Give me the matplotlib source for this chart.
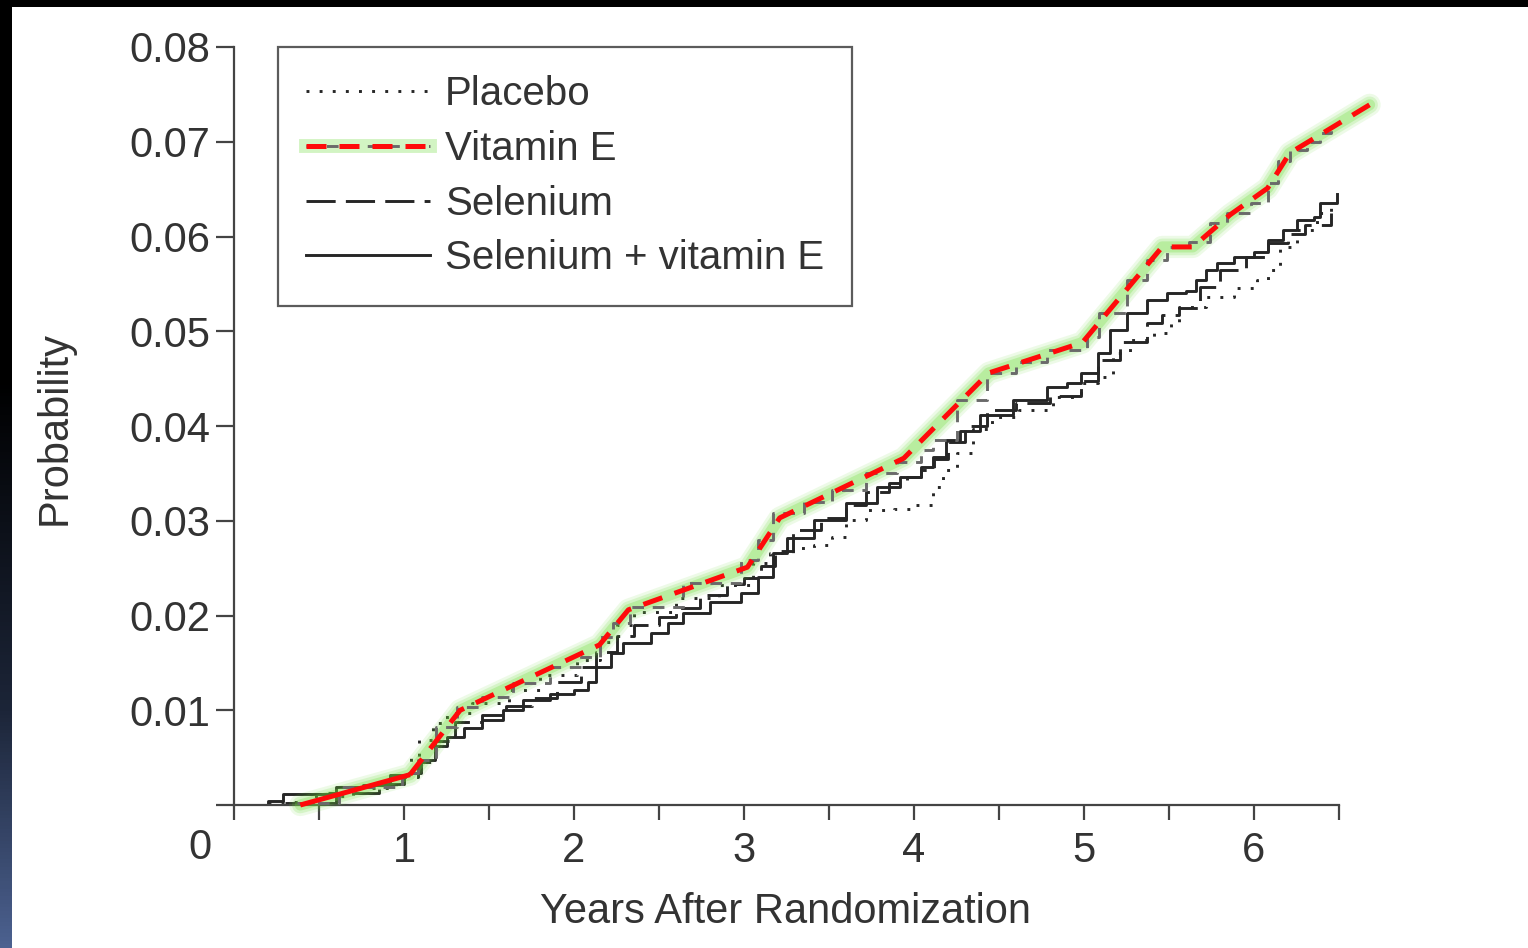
import matplotlib
matplotlib.use("Agg")
import matplotlib.pyplot as plt
from matplotlib.lines import Line2D
from matplotlib.legend_handler import HandlerTuple
from matplotlib.colors import LinearSegmentedColormap
import numpy as np

plt.rcParams['font.family'] = ['Liberation Sans', 'DejaVu Sans']

# Kaplan-Meier style curves (years, probability)
placebo_t = [0.20, 0.45, 0.70, 0.95, 1.04, 1.09, 1.17, 1.25, 1.40, 1.62, 1.80, 2.02, 2.15, 2.25,
             2.35, 2.60, 2.85, 3.05, 3.15, 3.29, 3.41, 3.52, 3.60, 3.72, 3.88, 3.99, 4.11, 4.17,
             4.25, 4.35, 4.46, 4.62, 4.82, 4.98, 5.08, 5.17, 5.27, 5.41, 5.51, 5.56, 5.72, 5.88,
             6.02, 6.08, 6.15, 6.25, 6.37, 6.45]
placebo_p = [0.0003, 0.0010, 0.0018, 0.0028, 0.0051, 0.0069, 0.0087, 0.0097, 0.0108, 0.0121,
             0.0137, 0.0153, 0.0172, 0.0190, 0.0204, 0.0218, 0.0232, 0.0255, 0.0266, 0.0271,
             0.0274, 0.0283, 0.0301, 0.0311, 0.0312, 0.0317, 0.0336, 0.0354, 0.0371, 0.0397,
             0.0410, 0.0417, 0.0431, 0.0445, 0.0452, 0.0477, 0.0491, 0.0498, 0.0509, 0.0526,
             0.0536, 0.0546, 0.0554, 0.0565, 0.0589, 0.0607, 0.0625, 0.0633]

selenium_t = [0.30, 0.60, 0.85, 1.00, 1.08, 1.18, 1.30, 1.46, 1.60, 1.75, 1.90, 2.04, 2.13, 2.25,
              2.35, 2.50, 2.60, 2.74, 2.90, 3.00, 3.10, 3.18, 3.29, 3.45, 3.60, 3.72, 3.85, 3.96,
              4.04, 4.12, 4.20, 4.30, 4.43, 4.60, 4.80, 4.98, 5.08, 5.21, 5.37, 5.46, 5.56, 5.68,
              5.80, 5.95, 6.08, 6.20, 6.30, 6.45]
selenium_p = [0.0002, 0.0013, 0.0022, 0.0030, 0.0045, 0.0068, 0.0088, 0.0095, 0.0105, 0.0113,
              0.0130, 0.0146, 0.0162, 0.0178, 0.0190, 0.0198, 0.0208, 0.0222, 0.0233, 0.0240,
              0.0252, 0.0268, 0.0290, 0.0303, 0.0317, 0.0330, 0.0340, 0.0346, 0.0354, 0.0365,
              0.0383, 0.0400, 0.0417, 0.0424, 0.0432, 0.0447, 0.0470, 0.0489, 0.0509, 0.0517,
              0.0525, 0.0547, 0.0565, 0.0578, 0.0593, 0.0603, 0.0612, 0.0625]

sel_vite_t = [0.09, 0.20, 0.29, 0.56, 0.60, 0.76, 0.92, 1.03, 1.10, 1.18, 1.25, 1.35, 1.46, 1.58,
              1.70, 1.86, 2.00, 2.08, 2.13, 2.22, 2.29, 2.45, 2.55, 2.64, 2.80, 2.98, 3.08, 3.17,
              3.25, 3.41, 3.60, 3.78, 3.92, 4.04, 4.11, 4.19, 4.27, 4.39, 4.58, 4.78, 4.90, 4.98,
              5.08, 5.15, 5.25, 5.37, 5.49, 5.60, 5.66, 5.72, 5.78, 5.88, 6.00, 6.08, 6.17, 6.25,
              6.35, 6.39, 6.49]
sel_vite_p = [0.0, 0.0004, 0.0012, 0.0013, 0.0019, 0.0021, 0.0032, 0.0034, 0.0048, 0.0062,
              0.0072, 0.0081, 0.0090, 0.0100, 0.0111, 0.0117, 0.0121, 0.0130, 0.0146, 0.0160,
              0.0171, 0.0182, 0.0192, 0.0203, 0.0214, 0.0224, 0.0241, 0.0266, 0.0282, 0.0301,
              0.0319, 0.0336, 0.0346, 0.0357, 0.0367, 0.0385, 0.0395, 0.0412, 0.0427, 0.0441,
              0.0445, 0.0456, 0.0477, 0.0501, 0.0519, 0.0533, 0.0540, 0.0543, 0.0554, 0.0565,
              0.0572, 0.0578, 0.0584, 0.0596, 0.0607, 0.0617, 0.0621, 0.0635, 0.0645]

vite_t = [0.37, 0.62, 0.99, 1.08, 1.19, 1.31, 1.46, 1.64, 1.86, 2.04, 2.15, 2.23, 2.33, 2.64,
          2.98, 3.08, 3.17, 3.35, 3.52, 3.72, 3.90, 4.04, 4.11, 4.25, 4.43, 4.60, 4.78, 5.02,
          5.09, 5.25, 5.37, 5.49, 5.62, 5.74, 5.84, 5.98, 6.08, 6.14, 6.21, 6.31, 6.39, 6.45]
vite_p = [0.0002, 0.0019, 0.0034, 0.0047, 0.0082, 0.0103, 0.0114, 0.0129, 0.0146, 0.0156,
          0.0177, 0.0192, 0.0209, 0.0234, 0.0259, 0.0280, 0.0308, 0.0320, 0.0332, 0.0350,
          0.0362, 0.0375, 0.0385, 0.0427, 0.0456, 0.0468, 0.0480, 0.0494, 0.0519, 0.0554,
          0.0575, 0.0589, 0.0594, 0.0614, 0.0625, 0.0635, 0.0656, 0.0680, 0.0691, 0.0700,
          0.0709, 0.0715]

# hand-drawn red highlight over the vitamin E curve
red_t = [0.39, 1.035, 1.33, 2.15, 2.32, 3.02, 3.21, 3.94, 4.44, 4.99, 5.46, 5.64, 5.86, 6.08,
         6.21, 6.68]
red_p = [0.0, 0.0032, 0.0100, 0.0169, 0.0206, 0.0251, 0.0303, 0.0366, 0.0456, 0.0488, 0.0589,
         0.0589, 0.0623, 0.0651, 0.0688, 0.0739]

labels = ["Placebo", "Vitamin E", "Selenium", "Selenium + vitamin E"]
y_ticks = [0.0, 0.01, 0.02, 0.03, 0.04, 0.05, 0.06, 0.07, 0.08]
x_ticks = [0, 1, 2, 3, 4, 5, 6]

W, H = 1528, 948
fig = plt.figure(figsize=(W / 100, H / 100), dpi=100)
fig.patch.set_facecolor("white")

# dark frame edges
top = fig.add_axes([0, 1 - 7 / H, 1, 7 / H])
top.set_axis_off()
top.add_patch(plt.Rectangle((0, 0), 1, 1, color="black", transform=top.transAxes))
side = fig.add_axes([0, 0, 12 / W, 1])
side.set_axis_off()
cmap = LinearSegmentedColormap.from_list("edge", [(0, "#000000"), (0.4, "#000000"),
                                                  (0.75, "#1c2538"), (1, "#4c6190")])
side.imshow(np.linspace(0, 1, 256)[:, None], aspect="auto", cmap=cmap,
            extent=[0, 1, 0, 1], origin="upper")

ax = fig.add_axes([234 / W, (H - 805) / H, 1105 / W, 758 / H])
ink = "#262626"
txt = "#333333"
lw_k = 2.1

ax.plot(placebo_t, placebo_p, drawstyle="steps-post", color=ink, lw=lw_k,
        linestyle=(0, (1, 3.5)))
ax.plot(selenium_t, selenium_p, drawstyle="steps-post", color=ink, lw=lw_k,
        linestyle=(0, (10, 3.5)))
ax.plot(sel_vite_t, sel_vite_p, drawstyle="steps-post", color=ink, lw=lw_k)

# green glow under the red highlight
for lw, a in [(16, 0.12), (12, 0.18), (8, 0.28)]:
    ax.plot(red_t, red_p, color="#6ddc3a", lw=lw, alpha=a, solid_capstyle="round",
            solid_joinstyle="round", clip_on=False, zorder=3)
ax.plot(vite_t, vite_p, drawstyle="steps-post", color="#6a6a6a", lw=lw_k,
        linestyle=(0, (4, 3)), zorder=4)
ax.plot(red_t[:2], red_p[:2], color="#ff0a0a", lw=3.6, solid_capstyle="butt",
        clip_on=False, zorder=5)
ax.plot(red_t[1:], red_p[1:], color="#ff0a0a", lw=3.6, linestyle=(0, (4, 2.6)),
        dash_capstyle="butt", clip_on=False, zorder=5)

ax.set_xlim(0, 6.5)
ax.set_ylim(0, 0.08)
for s in ["top", "right"]:
    ax.spines[s].set_visible(False)
for s in ["left", "bottom"]:
    ax.spines[s].set_color("#444444")
    ax.spines[s].set_linewidth(1.6)

ax.set_yticks(y_ticks)
ax.set_yticklabels([""] + [f"{v:.2f}" for v in y_ticks[1:]])
ax.set_xticks(x_ticks)
ax.set_xticklabels([""] + [str(v) for v in x_ticks[1:]])
ax.set_xticks(np.arange(0.5, 6.51, 1.0), minor=True)
ax.tick_params(axis="y", direction="out", length=13, width=1.6, color="#444444",
               labelsize=30, labelcolor=txt, pad=4)
ax.tick_params(axis="x", which="both", direction="out", length=11, width=1.6,
               color="#444444", labelsize=30, labelcolor=txt, pad=8)
fig.text(200 / W, 1 - 848 / H, "0", fontsize=30, color=txt, ha="center", va="center")

ax.set_xlabel("Years After Randomization", fontsize=30, color=txt)
ax.xaxis.set_label_coords(0.4995, -0.115)
ax.set_ylabel("Probability", fontsize=30, color=txt)
ax.yaxis.set_label_coords(-0.144, 0.497)

# legend handles
h_pl = Line2D([], [], color=ink, lw=lw_k, linestyle=(0, (1, 3.5)))
h_glow = Line2D([], [], color="#6ddc3a", lw=10, alpha=0.3)
h_gray = Line2D([], [], color="#6a6a6a", lw=lw_k, linestyle=(0, (4, 3)))
h_red = Line2D([], [], color="#ff0a0a", lw=3.6, linestyle=(0, (4, 2.6)))
h_se = Line2D([], [], color=ink, lw=lw_k, linestyle=(0, (10, 3.5)))
h_sv = Line2D([], [], color=ink, lw=lw_k)
leg = ax.legend([h_pl, (h_glow, h_gray, h_red), h_se, h_sv], labels,
                handler_map={tuple: HandlerTuple(ndivide=1, pad=0)},
                loc="upper left", bbox_to_anchor=(0.0398, 1.0), borderaxespad=0,
                prop={"size": 29}, handlelength=3.08, handletextpad=0.37, borderpad=0.7,
                labelspacing=0.415, frameon=True, fancybox=False)
leg.get_frame().set_edgecolor("#333333")
leg.get_frame().set_linewidth(1.6)
for t in leg.get_texts():
    t.set_color(txt)

fig.savefig("out.png", dpi=100, facecolor="white")
